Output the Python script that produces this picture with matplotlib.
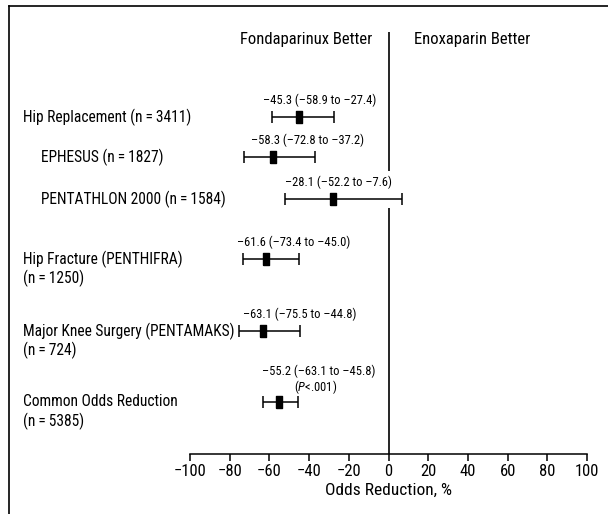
import matplotlib
matplotlib.use("Agg")
import matplotlib.pyplot as plt
from matplotlib.lines import Line2D
import matplotlib.transforms as mtransforms

FONTS = ["Roboto Condensed", "Archivo Narrow", "Liberation Sans", "DejaVu Sans"]
plt.rcParams["font.family"] = FONTS
plt.rcParams["mathtext.fontset"] = "custom"
plt.rcParams["mathtext.it"] = "Roboto Condensed:italic"
plt.rcParams["mathtext.rm"] = "Roboto Condensed"

# data
names = ["Hip Replacement (n\u2009=\u20093411)", "EPHESUS (n\u2009=\u20091827)",
         "PENTATHLON 2000 (n\u2009=\u20091584)", "Hip Fracture (PENTHIFRA)",
         "Major Knee Surgery (PENTAMAKS)", "Common Odds Reduction"]
names_n = ["", "", "", "(n\u2009=\u20091250)", "(n\u2009=\u2009724)", "(n\u2009=\u20095385)"]
indent = [False, True, True, False, False, False]
est = [-45.3, -58.3, -28.1, -61.6, -63.1, -55.2]
lo = [-58.9, -72.8, -52.2, -73.4, -75.5, -63.1]
hi = [-27.4, -37.2, 7.0, -45.0, -44.8, -45.8]   # PENTATHLON bar is drawn past zero in the original
notes = ["\u201345.3 (\u201358.9 to \u201327.4)", "\u201358.3 (\u201372.8 to \u201337.2)",
         "\u201328.1 (\u201352.2 to \u20137.6)", "\u201361.6 (\u201373.4 to \u201345.0)",
         "\u201363.1 (\u201375.5 to \u201344.8)", "\u201355.2 (\u201363.1 to \u201345.8)"]
xticks = [-100, -80, -60, -40, -20, 0, 20, 40, 60, 80, 100]

# layout (vertical axis runs in pixel rows from the top)
row_y = [117, 157, 199, 259, 331, 402]
note_x = [-34.8, -40.8, -25.2, -47.9, -44.8, -35.3]

W, H = 608, 514
fig = plt.figure(figsize=(W / 100, H / 100), dpi=100)
ax = fig.add_axes([190 / W, 1 - 454 / H, 397 / W, (454 - 32) / H])
ax.set_xlim(-100, 100)
ax.set_ylim(454, 32)

for s in ["top", "right", "left"]:
    ax.spines[s].set_visible(False)
ax.spines["bottom"].set_linewidth(1.1)
ax.set_yticks([])
ax.set_xticks(xticks)
ax.set_xticklabels([f"\u2212{abs(t)}" if t < 0 else str(t) for t in xticks])
ax.tick_params(axis="x", length=5, width=1.1, labelsize=12, pad=2)
ax.set_xlabel("Odds Reduction, %", fontsize=12.5, labelpad=3)

ax.axvline(0, color="black", lw=1.2, zorder=1)
# white gap behind the PENTATHLON row, as in the original
ax.axhspan(171, 208, xmin=0.48, xmax=0.52, color="white", lw=0, zorder=2)

xerr = [[e - l for e, l in zip(est, lo)], [h - e for e, h in zip(est, hi)]]
ax.errorbar(est, row_y, xerr=xerr, fmt="none", ecolor="black",
            elinewidth=1.1, capsize=4, capthick=1.1, zorder=3)
box = [(-0.27, -0.5), (0.27, -0.5), (0.27, 0.5), (-0.27, 0.5), (-0.27, -0.5)]
ax.plot(est, row_y, ls="none", marker=box, markersize=8.5,
        color="black", zorder=4)

for i, txt in enumerate(notes):
    dy = 31 if i == len(notes) - 1 else 17
    ax.text(note_x[i], row_y[i] - dy, txt, ha="center", va="center", fontsize=9)
ax.text(-36.8, row_y[-1] - 15, "($\\it{P}$<.001)", ha="center", va="center", fontsize=9)

ax.text(-8, 40, "Fondaparinux Better", ha="right", va="center", fontsize=12)
ax.text(12.6, 40, "Enoxaparin Better", ha="left", va="center", fontsize=12)

trans = mtransforms.blended_transform_factory(fig.transFigure, ax.transData)
for i, name in enumerate(names):
    x0 = (41 if indent[i] else 23) / W
    ax.text(x0, row_y[i], name, transform=trans, ha="left", va="center", fontsize=11.2)
    if names_n[i]:
        ax.text(x0, row_y[i] + 19, names_n[i], transform=trans, ha="left", va="center", fontsize=11.2)

# frame (top and left edges only, the picture is cropped)
fig.add_artist(Line2D([9 / W, 1], [1 - 6 / H, 1 - 6 / H], transform=fig.transFigure, color="black", lw=1.2))
fig.add_artist(Line2D([9 / W, 9 / W], [0, 1 - 6 / H], transform=fig.transFigure, color="black", lw=1.2))

fig.savefig("out.png", dpi=100)
